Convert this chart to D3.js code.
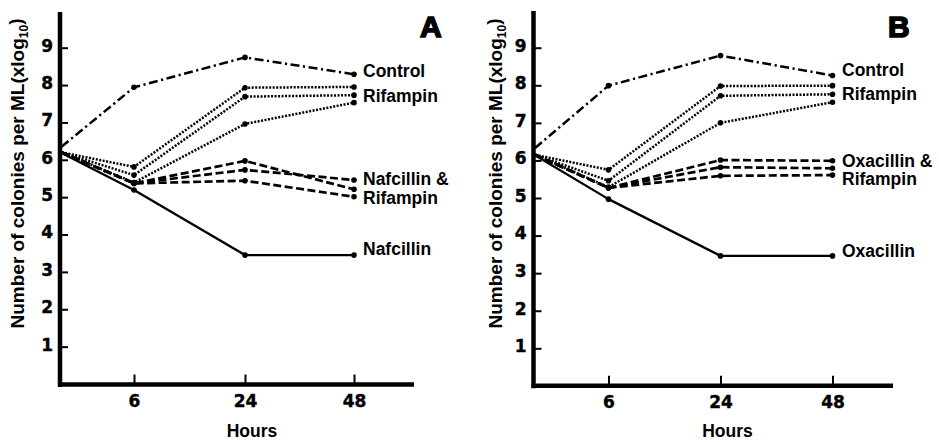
<!DOCTYPE html>
<html>
<head>
<meta charset="utf-8">
<script src="https://cdn.jsdelivr.net/npm/d3@7"></script>
<style>
  html, body { margin: 0; padding: 0; background: #fff; }
  svg { display: block; }
</style>
</head>
<body>
<svg id="chart" width="939" height="442"></svg>
<script>
// ---------- DATA ----------
const hours = [0, 6, 24, 48];
const tickHours = [6, 24, 48];
const yTickValues = [1, 2, 3, 4, 5, 6, 7, 8, 9];
const xTitle = "Hours";
const yTitleMain = "Number of colonies per ML(xlog";
const yTitleSub = "10";
const yTitleEnd = ")";

// Panel A
const aControl   = [6.35, 7.94, 8.74, 8.29];
const aRifampin1 = [6.20, 5.81, 7.93, 7.95];
const aRifampin2 = [6.20, 5.59, 7.69, 7.73];
const aRifampin3 = [6.20, 5.39, 6.96, 7.53];
const aCombo1    = [6.20, 5.37, 5.97, 5.21];
const aCombo2    = [6.20, 5.37, 5.73, 5.46];
const aCombo3    = [6.20, 5.37, 5.44, 5.01];
const aNafcillin = [6.18, 5.19, 3.45, 3.45];
const aLabels = ["Control", "Rifampin", "Nafcillin &", "Rifampin", "Nafcillin"];

// Panel B
const bControl   = [6.33, 7.99, 8.79, 8.26];
const bRifampin1 = [6.15, 5.75, 7.98, 7.99];
const bRifampin2 = [6.15, 5.46, 7.72, 7.76];
const bRifampin3 = [6.15, 5.29, 7.00, 7.55];
const bCombo1    = [6.15, 5.27, 6.01, 5.99];
const bCombo2    = [6.15, 5.27, 5.82, 5.79];
const bCombo3    = [6.15, 5.27, 5.59, 5.61];
const bOxacillin = [6.14, 4.97, 3.46, 3.46];
const bLabels = ["Control", "Rifampin", "Oxacillin &", "Rifampin", "Oxacillin"];

// ---------- STYLES ----------
const styles = {
  control:  { dash: "9,3.5,2.2,3.5", width: 2.5 },
  rifampin: { dash: "2,1.5",         width: 2.5 },
  combo:    { dash: "8,3.5",         width: 2.7 },
  single:   { dash: null,            width: 2.3 }
};

// ---------- LAYOUT ----------
const panels = [
  {
    letter: "A", letterX: 420,
    axisX: 60, axisY: 384.5, axisTop: 12, axisEnd: 414,
    xRange: [61.5, 134, 245, 354],
    yRange: [384, 47.7],
    titleX: 24, titleY: 173.5,
    labelX: 363, labelY: [76.5, 101.7, 185, 203.5, 255],
    labels: aLabels,
    series: [
      { v: aControl, s: "control" },
      { v: aRifampin1, s: "rifampin" },
      { v: aRifampin2, s: "rifampin" },
      { v: aRifampin3, s: "rifampin" },
      { v: aCombo1, s: "combo" },
      { v: aCombo2, s: "combo" },
      { v: aCombo3, s: "combo" },
      { v: aNafcillin, s: "single" }
    ]
  },
  {
    letter: "B", letterX: 888,
    axisX: 533.5, axisY: 385.8, axisTop: 11, axisEnd: 893,
    xRange: [535, 608.5, 720.5, 832.5],
    yRange: [385.9, 47.7],
    titleX: 502, titleY: 173.5,
    labelX: 842, labelY: [76, 100, 166.5, 185, 256.5],
    labels: bLabels,
    series: [
      { v: bControl, s: "control" },
      { v: bRifampin1, s: "rifampin" },
      { v: bRifampin2, s: "rifampin" },
      { v: bRifampin3, s: "rifampin" },
      { v: bCombo1, s: "combo" },
      { v: bCombo2, s: "combo" },
      { v: bCombo3, s: "combo" },
      { v: bOxacillin, s: "single" }
    ]
  }
];

const svg = d3.select("#chart");
const FONT = "'Liberation Sans', Arial, Helvetica, sans-serif";
const TICKFONT = "'DejaVu Sans', 'Liberation Sans', sans-serif";

panels.forEach(p => {
  const g = svg.append("g");
  const x = d3.scaleLinear().domain(hours).range(p.xRange);
  const y = d3.scaleLinear().domain([0, 9]).range(p.yRange);

  // Y axis ticks (inward) + labels
  const yAxis = d3.axisLeft(y).tickValues(yTickValues)
    .tickSizeInner(-8).tickSizeOuter(0).tickPadding(7)
    .tickFormat(d3.format("d"));
  const gy = g.append("g").attr("transform", `translate(${p.axisX},0)`).call(yAxis);
  gy.select(".domain").remove();
  gy.selectAll(".tick line").attr("stroke", "#000").attr("stroke-width", 2);
  gy.selectAll(".tick text").attr("font-family", TICKFONT).attr("font-weight", "bold")
    .attr("font-size", 17).attr("fill", "#000").attr("dy", "0.2em")
    .attr("stroke", "#000").attr("stroke-width", 0.4);

  // X axis ticks (upward) + labels
  const xAxis = d3.axisBottom(x).tickValues(tickHours)
    .tickSizeInner(-10).tickSizeOuter(0).tickPadding(10)
    .tickFormat(d3.format("d"));
  const gx = g.append("g").attr("transform", `translate(0,${p.axisY})`).call(xAxis);
  gx.select(".domain").remove();
  gx.selectAll(".tick line").attr("stroke", "#000").attr("stroke-width", 2);
  gx.selectAll(".tick text").attr("font-family", TICKFONT).attr("font-weight", "bold")
    .attr("font-size", 17).attr("fill", "#000")
    .attr("stroke", "#000").attr("stroke-width", 0.4);

  // Thick axis lines
  g.append("line").attr("x1", p.axisX).attr("x2", p.axisX)
    .attr("y1", p.axisTop).attr("y2", p.axisY + 2.5)
    .attr("stroke", "#000").attr("stroke-width", 4.5);
  g.append("line").attr("x1", p.axisX - 2).attr("x2", p.axisEnd)
    .attr("y1", p.axisY).attr("y2", p.axisY)
    .attr("stroke", "#000").attr("stroke-width", 4.5);

  // Lines
  const line = d3.line().x((d, i) => x(hours[i])).y(d => y(d));
  p.series.forEach(sr => {
    const st = styles[sr.s];
    g.append("path").datum(sr.v).attr("d", line)
      .attr("fill", "none").attr("stroke", "#000")
      .attr("stroke-width", st.width)
      .attr("stroke-dasharray", st.dash)
      .attr("stroke-linejoin", "round");
    g.selectAll(null).data(sr.v.slice(1)).enter().append("circle")
      .attr("cx", (d, i) => x(hours[i + 1])).attr("cy", d => y(d))
      .attr("r", 2.8).attr("fill", "#000");
  });

  // Series labels
  p.labels.forEach((t, i) => {
    g.append("text").attr("x", p.labelX).attr("y", p.labelY[i])
      .attr("font-family", FONT).attr("font-weight", "bold")
      .attr("font-size", 17.5).attr("fill", "#000").text(t);
  });

  // Panel letter
  g.append("text").attr("x", p.letterX).attr("y", 37)
    .attr("font-family", FONT).attr("font-weight", "bold")
    .attr("font-size", 30).attr("fill", "#000")
    .attr("stroke", "#000").attr("stroke-width", 1.6)
    .text(p.letter);

  // X title
  g.append("text").attr("x", (p.xRange[2] + 7)).attr("y", 437)
    .attr("text-anchor", "middle")
    .attr("font-family", FONT).attr("font-weight", "bold")
    .attr("font-size", 17.5).attr("fill", "#000").text(xTitle);

  // Y title (rotated)
  const yt = g.append("text")
    .attr("transform", `translate(${p.titleX},${p.titleY}) rotate(-90)`)
    .attr("text-anchor", "middle")
    .attr("font-family", FONT).attr("font-weight", "bold")
    .attr("font-size", 19).attr("fill", "#000");
  yt.append("tspan").text(yTitleMain);
  yt.append("tspan").attr("font-size", 12).attr("dy", "0.35em").text(yTitleSub);
  yt.append("tspan").attr("dy", "-0.35em").text(yTitleEnd);
});
</script>
</body>
</html>
